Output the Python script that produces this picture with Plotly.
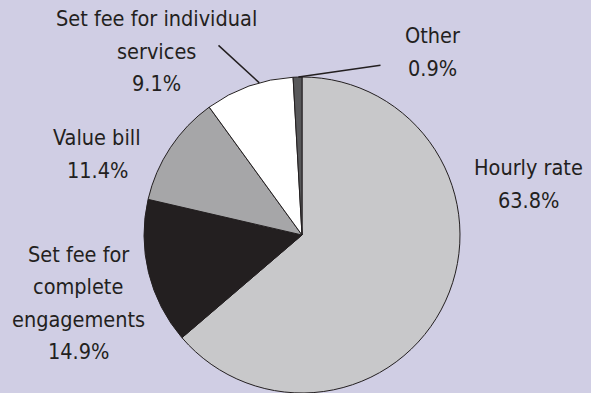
import math
import plotly.graph_objects as go

labels = ["Hourly rate", "Set fee for complete engagements", "Value bill",
          "Set fee for individual services", "Other"]
label_lines = [["Hourly rate"], ["Set fee for", "complete", "engagements"], ["Value bill"],
               ["Set fee for individual", "services"], ["Other"]]
values = [63.8, 14.9, 11.4, 9.1, 0.9]
colors = ["#c8c8ca", "#231f20", "#a6a6a8", "#ffffff", "#58585a"]

W, H = 591, 393
BG = "#d0cee4"
FONT = "DejaVu Sans Condensed, DejaVu Sans, sans-serif"
TXT = "#231f20"
LINE_H = 32.5

cx, cy, r = 302, 235, 158  # pixel geometry of the pie

fig = go.Figure(go.Pie(
    labels=labels, values=values, sort=False, direction="clockwise", rotation=0,
    marker=dict(colors=colors, line=dict(color="#231f20", width=1)),
    textinfo="none", hoverinfo="label+percent", showlegend=False,
    domain=dict(x=[(cx - r) / W, (cx + r) / W], y=[0, 2 * r / H]),
))

# label centres (pixels) and leader line ends / anchor fraction within slice
label_pos = [(528, 184), (78, 303), (97, 154), (156, 51), (432, 52)]
leader_end = [None, None, None, (217, 44), (382, 65)]
leader_frac = [0.5, 0.5, 0.5, 0.62, 0.6]

ann = []
total = sum(values)
cum = 0
for i, v in enumerate(values):
    ang = (cum + v * leader_frac[i]) / total * 2 * math.pi
    cum += v
    px, py = label_pos[i]
    lines = label_lines[i] + [f"{v:.1f}%"]
    n = len(lines)
    for k, line in enumerate(lines):
        ly = py + (k - (n - 1) / 2) * LINE_H
        ann.append(dict(x=px / W, y=1 - ly / H, xref="paper", yref="paper",
                        text=line, showarrow=False,
                        font=dict(family=FONT, size=21.5, color=TXT),
                        xanchor="center", yanchor="middle"))
    if leader_end[i] is not None:
        tx = cx + r * math.sin(ang)
        ty = cy - r * math.cos(ang)
        ex, ey = leader_end[i]
        ann.append(dict(x=tx / W, y=1 - ty / H, xref="paper", yref="paper",
                        ax=ex - tx, ay=ey - ty, axref="pixel", ayref="pixel",
                        text="", showarrow=True, arrowhead=0, arrowwidth=1.5,
                        arrowcolor=TXT, standoff=0, startstandoff=0))

fig.update_layout(width=W, height=H, margin=dict(l=0, r=0, t=0, b=0),
                  paper_bgcolor=BG, plot_bgcolor=BG, annotations=ann)
fig.write_html("out.html")
